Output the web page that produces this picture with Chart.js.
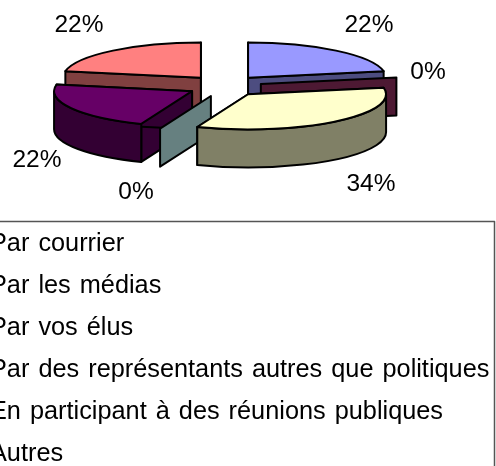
<!DOCTYPE html>
<html>
<head>
<meta charset="utf-8">
<style>
  html, body { margin: 0; padding: 0; background: #fff; overflow: hidden; }
  canvas { display: block; }
</style>
<script src="https://cdn.jsdelivr.net/npm/chart.js@4"></script>
</head>
<body>
<canvas id="pie" width="496" height="466"></canvas>
<script>
const categories = [
  "Par courrier",
  "Par les médias",
  "Par vos élus",
  "Par des représentants autres que politiques",
  "En participant à des réunions publiques",
  "Autres"
];
const percents = [22, 0, 34, 0, 22, 22];
const topColors = ["#9999FF", "#993366", "#FFFFCC", "#CCFFFF", "#660066", "#FF8080"];
const sideColors = ["#4D4D80", "#4D1933", "#808066", "#668080", "#330033", "#804040"];

// ordre de dessin : de l'arrière vers l'avant
const drawOrder = [5, 0, 1, 4, 3, 2];

// perspective du camembert
const PIE_CY = 86;      // centre à l'écran
const SQUASH = 0.255;
const EXPLODE_SQUASH = 0.29;
const DEPTH = 38;
const EXPLODE = 37;

// emplacement des étiquettes (centre du texte)
const labelSpots = [[369, 25], [428, 72], [371, 184], [136, 192], [37, 160], [79, 25]];

const pie3d = {
  id: "pie3d",
  beforeDatasetsDraw(chart) {
    const ctx = chart.ctx;
    const arcs = chart.getDatasetMeta(0).data;
    ctx.lineWidth = 2;
    ctx.strokeStyle = "#000";
    ctx.lineJoin = "round";
    for (const i of drawOrder) drawSlice(ctx, arcs[i], i);
    drawLabels(ctx);
    drawLegend(ctx);
    return false; // les arcs sont dessinés ci-dessus
  }
};

function drawSlice(ctx, arc, i) {
  const a0 = arc.startAngle, a1 = arc.endAngle;
  const mid = (a0 + a1) / 2;
  const R = arc.outerRadius;
  const cx = arc.x + Math.cos(mid) * EXPLODE;
  const cy = PIE_CY + Math.sin(mid) * EXPLODE * EXPLODE_SQUASH;
  const rimX = a => cx + Math.cos(a) * R;
  const rimY = a => cy + Math.sin(a) * R * SQUASH;

  // parois radiales
  for (const a of [a0, a1]) {
    ctx.beginPath();
    ctx.moveTo(cx, cy);
    ctx.lineTo(rimX(a), rimY(a));
    ctx.lineTo(rimX(a), rimY(a) + DEPTH);
    ctx.lineTo(cx, cy + DEPTH);
    ctx.closePath();
    ctx.fillStyle = sideColors[i];
    ctx.fill();
    ctx.stroke();
    if (a0 === a1) return; // tranche à 0% : une seule paroi
  }

  // bord extérieur visible
  const s = Math.max(a0, 0), e = Math.min(a1, Math.PI);
  if (e > s) {
    ctx.beginPath();
    ctx.ellipse(cx, cy, R, R * SQUASH, 0, s, e);
    ctx.ellipse(cx, cy + DEPTH, R, R * SQUASH, 0, e, s, true);
    ctx.closePath();
    ctx.fillStyle = sideColors[i];
    ctx.fill();
    ctx.stroke();
  }

  // face du dessus : l'arc de Chart.js, aplati
  ctx.save();
  ctx.translate(cx, cy);
  ctx.scale(1, SQUASH);
  ctx.translate(-arc.x, -arc.y);
  arc.draw(ctx);
  ctx.restore();

  ctx.beginPath();
  ctx.moveTo(cx, cy);
  ctx.ellipse(cx, cy, R, R * SQUASH, 0, a0, a1);
  ctx.closePath();
  ctx.stroke();
}

function drawLabels(ctx) {
  ctx.save();
  ctx.fillStyle = "#000";
  ctx.font = "24.5px 'Liberation Sans'";
  ctx.textAlign = "center";
  ctx.textBaseline = "middle";
  percents.forEach((p, i) => ctx.fillText(p + "%", labelSpots[i][0], labelSpots[i][1]));
  ctx.restore();
}

function drawLegend(ctx) {
  ctx.save();
  // bord gauche et bas hors de l'image, comme sur l'original
  ctx.strokeStyle = "#555";
  ctx.lineWidth = 1.5;
  ctx.strokeRect(-5, 221.5, 499.5, 260);
  ctx.fillStyle = "#000";
  ctx.font = "25.3px 'Liberation Sans'";
  ctx.wordSpacing = "2px";
  ctx.textBaseline = "alphabetic";
  categories.forEach((c, i) => ctx.fillText(c, -10, 251 + i * 41.9));
  ctx.restore();
}

new Chart(document.getElementById("pie"), {
  type: "pie",
  data: {
    labels: categories,
    datasets: [{
      data: percents,
      backgroundColor: topColors,
      borderWidth: 0
    }]
  },
  options: {
    responsive: false,
    animation: false,
    events: [],
    layout: { padding: { left: 86.5, right: 133.5, top: 95, bottom: 95 } },
    plugins: { legend: { display: false }, tooltip: { enabled: false } }
  },
  plugins: [pie3d]
});
</script>
</body>
</html>
